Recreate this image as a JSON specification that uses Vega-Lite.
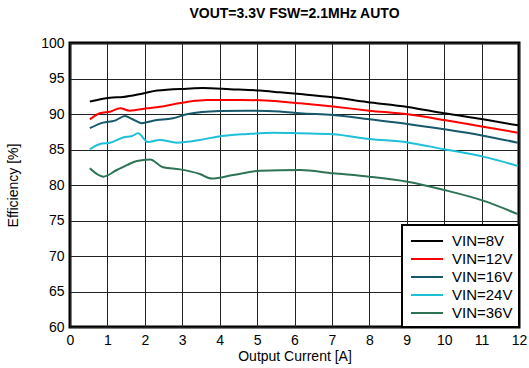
{
  "$schema": "https://vega.github.io/schema/vega-lite/v6.json",
  "width": 449,
  "height": 284,
  "autosize": {"type": "none"},
  "padding": {"left": 70, "top": 43, "right": 10, "bottom": 41},
  "background": "white",
  "title": {
    "text": "VOUT=3.3V FSW=2.1MHz AUTO",
    "font": "Liberation Sans",
    "fontSize": 14,
    "fontWeight": "bold",
    "color": "black",
    "anchor": "middle",
    "offset": 15
  },
  "config": {
    "view": {"stroke": "black", "strokeWidth": 3},
    "font": "Liberation Sans",
    "axis": {
      "labelFont": "Liberation Sans",
      "labelFontSize": 14,
      "labelColor": "black",
      "titleFont": "Liberation Sans",
      "titleFontSize": 14,
      "titleFontWeight": "normal",
      "titleColor": "black",
      "gridColor": "#222222",
      "gridWidth": 1,
      "gridOpacity": 1,
      "domain": false,
      "ticks": false
    }
  },
  "data": {
    "values": [
      {"I": 0.53, "eff": 91.75, "s": "VIN=8V"},
      {"I": 1.07, "eff": 92.3, "s": "VIN=8V"},
      {"I": 1.42, "eff": 92.4, "s": "VIN=8V"},
      {"I": 1.95, "eff": 92.9, "s": "VIN=8V"},
      {"I": 2.33, "eff": 93.3, "s": "VIN=8V"},
      {"I": 3.12, "eff": 93.57, "s": "VIN=8V"},
      {"I": 3.55, "eff": 93.66, "s": "VIN=8V"},
      {"I": 4.28, "eff": 93.5, "s": "VIN=8V"},
      {"I": 5.08, "eff": 93.3, "s": "VIN=8V"},
      {"I": 5.61, "eff": 93.05, "s": "VIN=8V"},
      {"I": 6.15, "eff": 92.8, "s": "VIN=8V"},
      {"I": 7.03, "eff": 92.35, "s": "VIN=8V"},
      {"I": 7.93, "eff": 91.7, "s": "VIN=8V"},
      {"I": 9.02, "eff": 91.0, "s": "VIN=8V"},
      {"I": 10.0, "eff": 90.1, "s": "VIN=8V"},
      {"I": 11.04, "eff": 89.25, "s": "VIN=8V"},
      {"I": 11.97, "eff": 88.4, "s": "VIN=8V"},

      {"I": 0.53, "eff": 89.25, "s": "VIN=12V"},
      {"I": 0.8, "eff": 90.1, "s": "VIN=12V"},
      {"I": 1.07, "eff": 90.33, "s": "VIN=12V"},
      {"I": 1.34, "eff": 90.8, "s": "VIN=12V"},
      {"I": 1.6, "eff": 90.47, "s": "VIN=12V"},
      {"I": 2.05, "eff": 90.8, "s": "VIN=12V"},
      {"I": 2.4, "eff": 91.03, "s": "VIN=12V"},
      {"I": 3.12, "eff": 91.7, "s": "VIN=12V"},
      {"I": 3.66, "eff": 91.97, "s": "VIN=12V"},
      {"I": 4.54, "eff": 91.97, "s": "VIN=12V"},
      {"I": 5.08, "eff": 91.95, "s": "VIN=12V"},
      {"I": 5.61, "eff": 91.75, "s": "VIN=12V"},
      {"I": 6.15, "eff": 91.5, "s": "VIN=12V"},
      {"I": 7.03, "eff": 91.05, "s": "VIN=12V"},
      {"I": 8.0, "eff": 90.47, "s": "VIN=12V"},
      {"I": 9.02, "eff": 89.95, "s": "VIN=12V"},
      {"I": 10.0, "eff": 89.15, "s": "VIN=12V"},
      {"I": 11.04, "eff": 88.2, "s": "VIN=12V"},
      {"I": 11.97, "eff": 87.37, "s": "VIN=12V"},

      {"I": 0.53, "eff": 88.0, "s": "VIN=16V"},
      {"I": 0.88, "eff": 88.78, "s": "VIN=16V"},
      {"I": 1.2, "eff": 89.06, "s": "VIN=16V"},
      {"I": 1.47, "eff": 89.72, "s": "VIN=16V"},
      {"I": 1.66, "eff": 89.3, "s": "VIN=16V"},
      {"I": 1.92, "eff": 88.7, "s": "VIN=16V"},
      {"I": 2.22, "eff": 89.06, "s": "VIN=16V"},
      {"I": 2.75, "eff": 89.4, "s": "VIN=16V"},
      {"I": 3.12, "eff": 89.95, "s": "VIN=16V"},
      {"I": 4.0, "eff": 90.42, "s": "VIN=16V"},
      {"I": 4.73, "eff": 90.47, "s": "VIN=16V"},
      {"I": 5.61, "eff": 90.35, "s": "VIN=16V"},
      {"I": 6.15, "eff": 90.1, "s": "VIN=16V"},
      {"I": 7.03, "eff": 89.86, "s": "VIN=16V"},
      {"I": 8.0, "eff": 89.25, "s": "VIN=16V"},
      {"I": 9.02, "eff": 88.6, "s": "VIN=16V"},
      {"I": 10.0, "eff": 87.85, "s": "VIN=16V"},
      {"I": 11.04, "eff": 86.95, "s": "VIN=16V"},
      {"I": 11.97, "eff": 85.96, "s": "VIN=16V"},

      {"I": 0.53, "eff": 85.03, "s": "VIN=24V"},
      {"I": 0.8, "eff": 85.77, "s": "VIN=24V"},
      {"I": 1.07, "eff": 85.96, "s": "VIN=24V"},
      {"I": 1.42, "eff": 86.7, "s": "VIN=24V"},
      {"I": 1.66, "eff": 86.9, "s": "VIN=24V"},
      {"I": 1.82, "eff": 87.28, "s": "VIN=24V"},
      {"I": 2.08, "eff": 86.06, "s": "VIN=24V"},
      {"I": 2.4, "eff": 86.34, "s": "VIN=24V"},
      {"I": 2.86, "eff": 85.96, "s": "VIN=24V"},
      {"I": 3.47, "eff": 86.34, "s": "VIN=24V"},
      {"I": 3.93, "eff": 86.8, "s": "VIN=24V"},
      {"I": 4.73, "eff": 87.18, "s": "VIN=24V"},
      {"I": 5.43, "eff": 87.37, "s": "VIN=24V"},
      {"I": 6.15, "eff": 87.28, "s": "VIN=24V"},
      {"I": 7.03, "eff": 87.14, "s": "VIN=24V"},
      {"I": 8.0, "eff": 86.48, "s": "VIN=24V"},
      {"I": 9.02, "eff": 86.0, "s": "VIN=24V"},
      {"I": 10.0, "eff": 85.03, "s": "VIN=24V"},
      {"I": 11.04, "eff": 84.0, "s": "VIN=24V"},
      {"I": 11.97, "eff": 82.68, "s": "VIN=24V"},

      {"I": 0.53, "eff": 82.35, "s": "VIN=36V"},
      {"I": 0.89, "eff": 81.17, "s": "VIN=36V"},
      {"I": 1.25, "eff": 82.11, "s": "VIN=36V"},
      {"I": 1.52, "eff": 82.8, "s": "VIN=36V"},
      {"I": 1.79, "eff": 83.38, "s": "VIN=36V"},
      {"I": 2.14, "eff": 83.6, "s": "VIN=36V"},
      {"I": 2.49, "eff": 82.49, "s": "VIN=36V"},
      {"I": 2.94, "eff": 82.2, "s": "VIN=36V"},
      {"I": 3.47, "eff": 81.55, "s": "VIN=36V"},
      {"I": 3.79, "eff": 80.9, "s": "VIN=36V"},
      {"I": 4.36, "eff": 81.4, "s": "VIN=36V"},
      {"I": 5.08, "eff": 82.0, "s": "VIN=36V"},
      {"I": 6.15, "eff": 82.1, "s": "VIN=36V"},
      {"I": 7.03, "eff": 81.64, "s": "VIN=36V"},
      {"I": 8.0, "eff": 81.17, "s": "VIN=36V"},
      {"I": 9.02, "eff": 80.46, "s": "VIN=36V"},
      {"I": 10.0, "eff": 79.3, "s": "VIN=36V"},
      {"I": 11.04, "eff": 77.8, "s": "VIN=36V"},
      {"I": 11.97, "eff": 75.9, "s": "VIN=36V"}
    ]
  },
  "mark": {"type": "line", "strokeWidth": 2, "interpolate": "monotone"},
  "encoding": {
    "x": {
      "field": "I",
      "type": "quantitative",
      "scale": {"domain": [0, 12], "nice": false},
      "axis": {"title": "Output Current [A]", "values": [0,1,2,3,4,5,6,7,8,9,10,11,12], "labelPadding": 6, "titlePadding": 2, "labelFlush": false}
    },
    "y": {
      "field": "eff",
      "type": "quantitative",
      "scale": {"domain": [60, 100], "nice": false, "zero": false},
      "axis": {"title": "Efficiency [%]", "values": [60,65,70,75,80,85,90,95,100], "labelPadding": 6, "titlePadding": 20}
    },
    "color": {
      "field": "s",
      "type": "nominal",
      "sort": ["VIN=8V", "VIN=12V", "VIN=16V", "VIN=24V", "VIN=36V"],
      "scale": {
        "domain": ["VIN=8V", "VIN=12V", "VIN=16V", "VIN=24V", "VIN=36V"],
        "range": ["#000000", "#ff0000", "#17596b", "#1ec0d8", "#2e7354"]
      },
      "legend": {
        "title": null,
        "orient": "bottom-right",
        "offset": 0,
        "fillColor": "white",
        "strokeColor": "black",
        "padding": 6,
        "symbolType": "M-0.78,0H2.78",
        "symbolSize": 324,
        "symbolStrokeWidth": 2,
        "symbolFillColor": "transparent",
        "labelFont": "Liberation Sans",
        "labelFontSize": 15,
        "labelColor": "black",
        "rowPadding": -1,
        "labelOffset": 24,
        "encode": {"legend": {"update": {"strokeWidth": {"value": 2}}}}
      }
    }
  }
}
